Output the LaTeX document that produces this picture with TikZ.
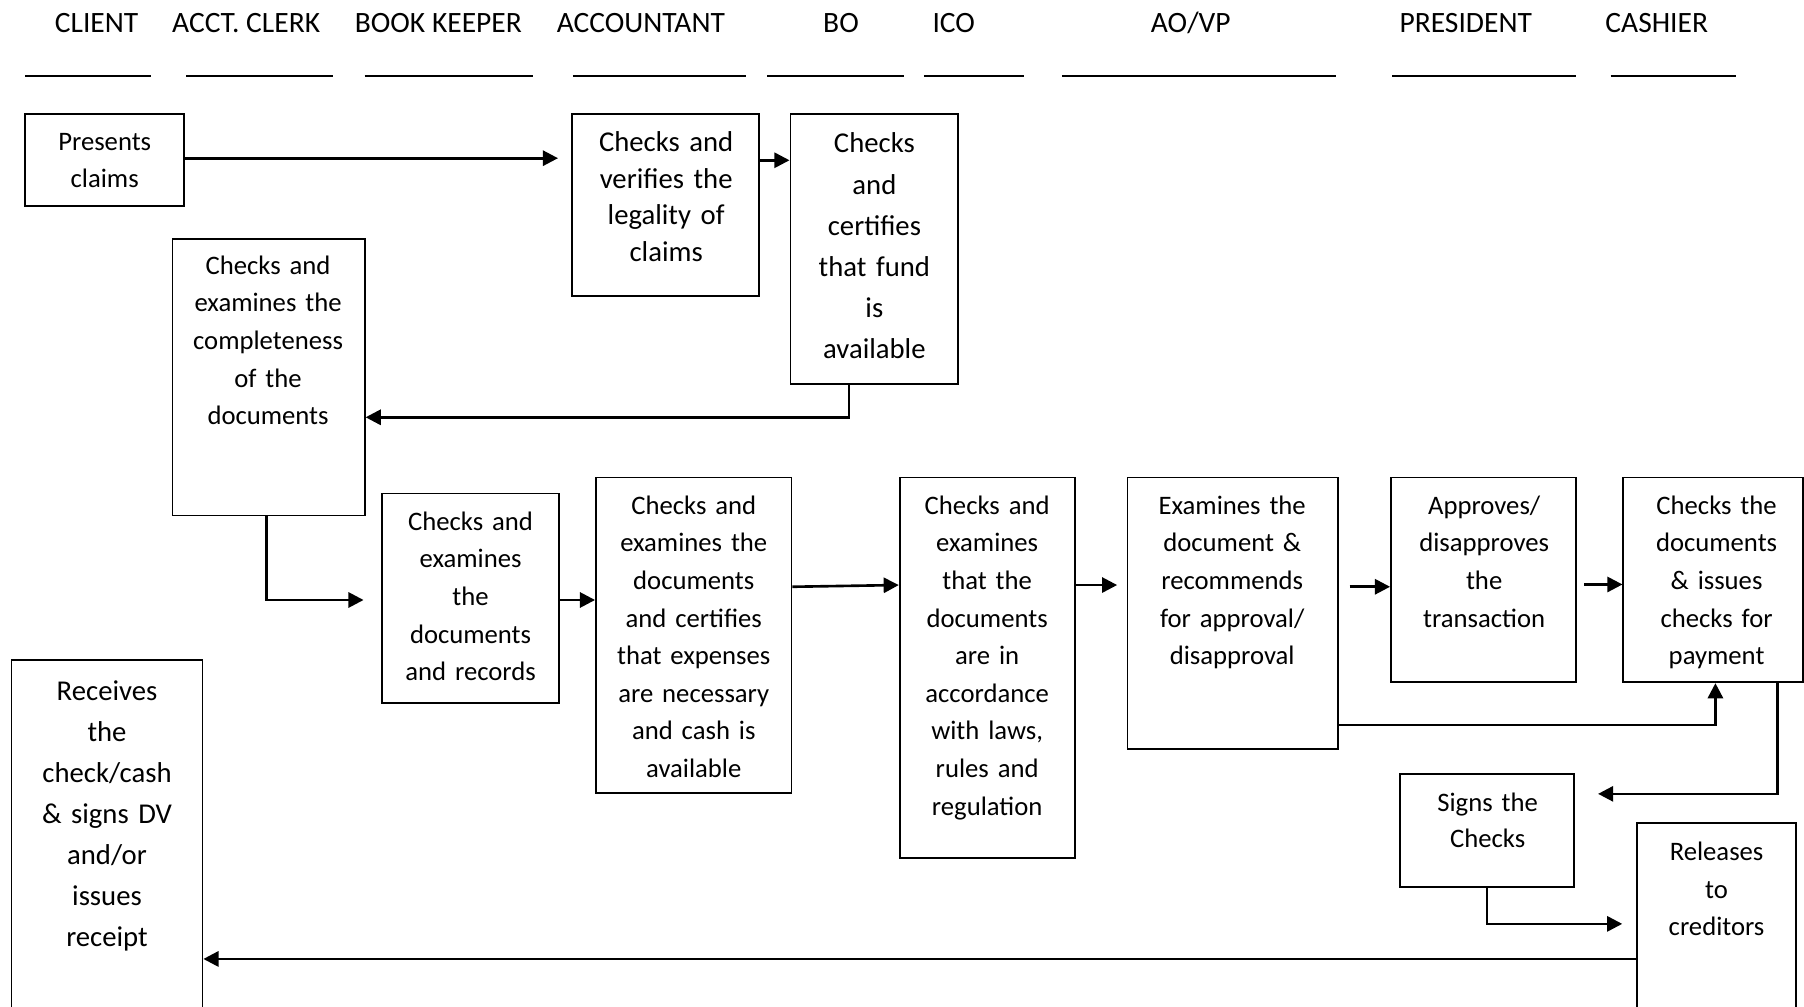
\documentclass[tikz,border=0pt]{standalone}
\usepackage{fontspec}
\setmainfont{Carlito}
\usetikzlibrary{arrows.meta}

% \flowbox{name}{x1}{y1}{x2}{y2}: an empty framed step between two corners
\newcommand{\flowbox}[5]{%
  \node[box, minimum width={(#4-#2)*0.02cm}, minimum height={(#5-#3)*0.02cm}]
    (#1) at ({(#2+#4)/2},{(#3+#5)/2}) {};}

\begin{document}
\begin{tikzpicture}[x=0.02cm, y=-0.02cm,
  box/.style={draw, line width=0.9pt, inner sep=0pt},
  arr/.style={line width=1.3pt, -{Triangle[length=7.5pt,width=7.5pt]}},
  lanerule/.style={line width=1.1pt},
  head/.style={anchor=base, inner sep=0pt, font=\fontsize{14.6}{17}\selectfont},
  txt/.style={anchor=base, align=center, inner sep=0pt, text width=5cm,
              yshift=-0.02cm, font=\fontsize{13.2}{18.6}\selectfont},
  bigtxt/.style={txt, font=\fontsize{14.2}{18}\selectfont},
]
\useasboundingbox (0,0) rectangle (1568,875);

% lane headings and their rules
\node[head] (hclient)  at (84,28.5)   {CLIENT};
\node[head] (hclerk)   at (214,28.5)  {ACCT. CLERK};
\node[head] (hbook)    at (381,28.5)  {BOOK KEEPER};
\node[head] (hacct)    at (557,28.5)  {ACCOUNTANT};
\node[head] (hbo)      at (731,28.5)  {BO};
\node[head] (hico)     at (829,28.5)  {ICO};
\node[head] (haovp)    at (1035,28.5) {AO/VP};
\node[head] (hpres)    at (1274,28.5) {PRESIDENT};
\node[head] (hcash)    at (1440,28.5) {CASHIER};

\draw[lanerule] (22,66) -- (131,66);
\draw[lanerule] (162,66) -- (289,66);
\draw[lanerule] (317,66) -- (463,66);
\draw[lanerule] (498,66) -- (648,66);
\draw[lanerule] (667,66) -- (786,66);
\draw[lanerule] (803,66) -- (890,66);
\draw[lanerule] (923,66) -- (1161,66);
\draw[lanerule] (1210,66) -- (1370,66);
\draw[lanerule] (1400,66) -- (1509,66);

% process steps
\flowbox{claims}{22}{99}{160}{179}
\flowbox{acc1}{497}{99}{660}{257}
\flowbox{bo}{687}{99}{833}{334}
\flowbox{compl}{150}{208}{317}{448}
\flowbox{bk}{332}{429}{486}{611}
\flowbox{acc2}{518}{415}{688}{689}
\flowbox{ico}{782}{415}{934}{746}
\flowbox{aovp}{980}{415}{1163}{651}
\flowbox{pres}{1209}{415}{1370}{593}
\flowbox{cash}{1411}{415}{1567}{593}
\flowbox{signs}{1217}{673}{1368}{771}
\flowbox{rel}{1423}{715}{1561}{885}
\flowbox{recv}{10}{574}{176}{885}

% step texts
\node[txt] (tclaims) at (91,129.5) {Presents\\claims};
\node[bigtxt] (tacc1) at (579,131) {Checks and\\verifies the\\legality of\\claims};
\node[bigtxt, font=\fontsize{14.2}{20.4}\selectfont] (tbo) at (760,131.8)
  {Checks\\and\\certifies\\that fund\\is\\available};
\node[txt] (tcompl) at (233,237.5) {Checks and\\examines the\\completeness\\of the\\documents};
\node[txt] (tbk) at (409,460) {Checks and\\examines\\the\\documents\\and records};
\node[txt] (tacc2) at (603,446) {Checks and\\examines the\\documents\\and certifies\\that expenses\\are necessary\\and cash is\\available};
\node[txt] (tico) at (858,446) {Checks and\\examines\\that the\\documents\\are in\\accordance\\with laws,\\rules and\\regulation};
\node[txt] (taovp) at (1071,446) {Examines the\\document \&\\recommends\\for approval/\\disapproval};
\node[txt] (tpres) at (1290,446) {Approves/\\disapproves\\the\\transaction};
\node[txt] (tcash) at (1492,446) {Checks the\\documents\\\& issues\\checks for\\payment};
\node[txt, font=\fontsize{13.2}{18}\selectfont] (tsigns) at (1293,704) {Signs the\\Checks};
\node[txt] (trel) at (1492,747) {Releases\\to\\creditors};
\node[bigtxt, font=\fontsize{14.2}{20.3}\selectfont] (trecv) at (93,608)
  {Receives\\the\\check/cash\\\& signs DV\\and/or\\issues\\receipt};

% free ends of connectors
\coordinate (e1) at (485,137.5);
\coordinate (e2) at (316,521.5);
\coordinate (e3) at (971,508.5);
\coordinate (s4) at (1173,510);
\coordinate (s5) at (1377,508);
\coordinate (e6) at (1389,690);
\coordinate (e7) at (1410,803);

% flow
\draw[arr] (claims.east |- e1) -- (e1);
\draw[arr] (acc1.east |- 0,139.3) -- (bo.west |- 0,139.3);
\draw[arr] (bo.south -| 738,0) |- (compl.east |- 0,362.7);
\draw[arr] (compl.south -| 231.5,0) |- (e2);
\draw[arr] (bk.east |- 0,521.5) -- (acc2.west |- 0,521.5);
\draw[arr] (acc2.east |- 0,510) -- (ico.west |- 0,508.5);
\draw[arr] (ico.east |- e3) -- (e3);
\draw[arr] (s4) -- (pres.west |- s4);
\draw[arr] (s5) -- (cash.west |- s5);
\draw[arr] (aovp.east |- 0,630) -| (cash.south -| 1491,0);
\draw[arr] (cash.south -| 1545,0) |- (e6);
\draw[arr] (signs.south) |- (e7);
\draw[arr] (rel.west |- 0,833.5) -- (recv.east |- 0,833.5);
\end{tikzpicture}
\end{document}
